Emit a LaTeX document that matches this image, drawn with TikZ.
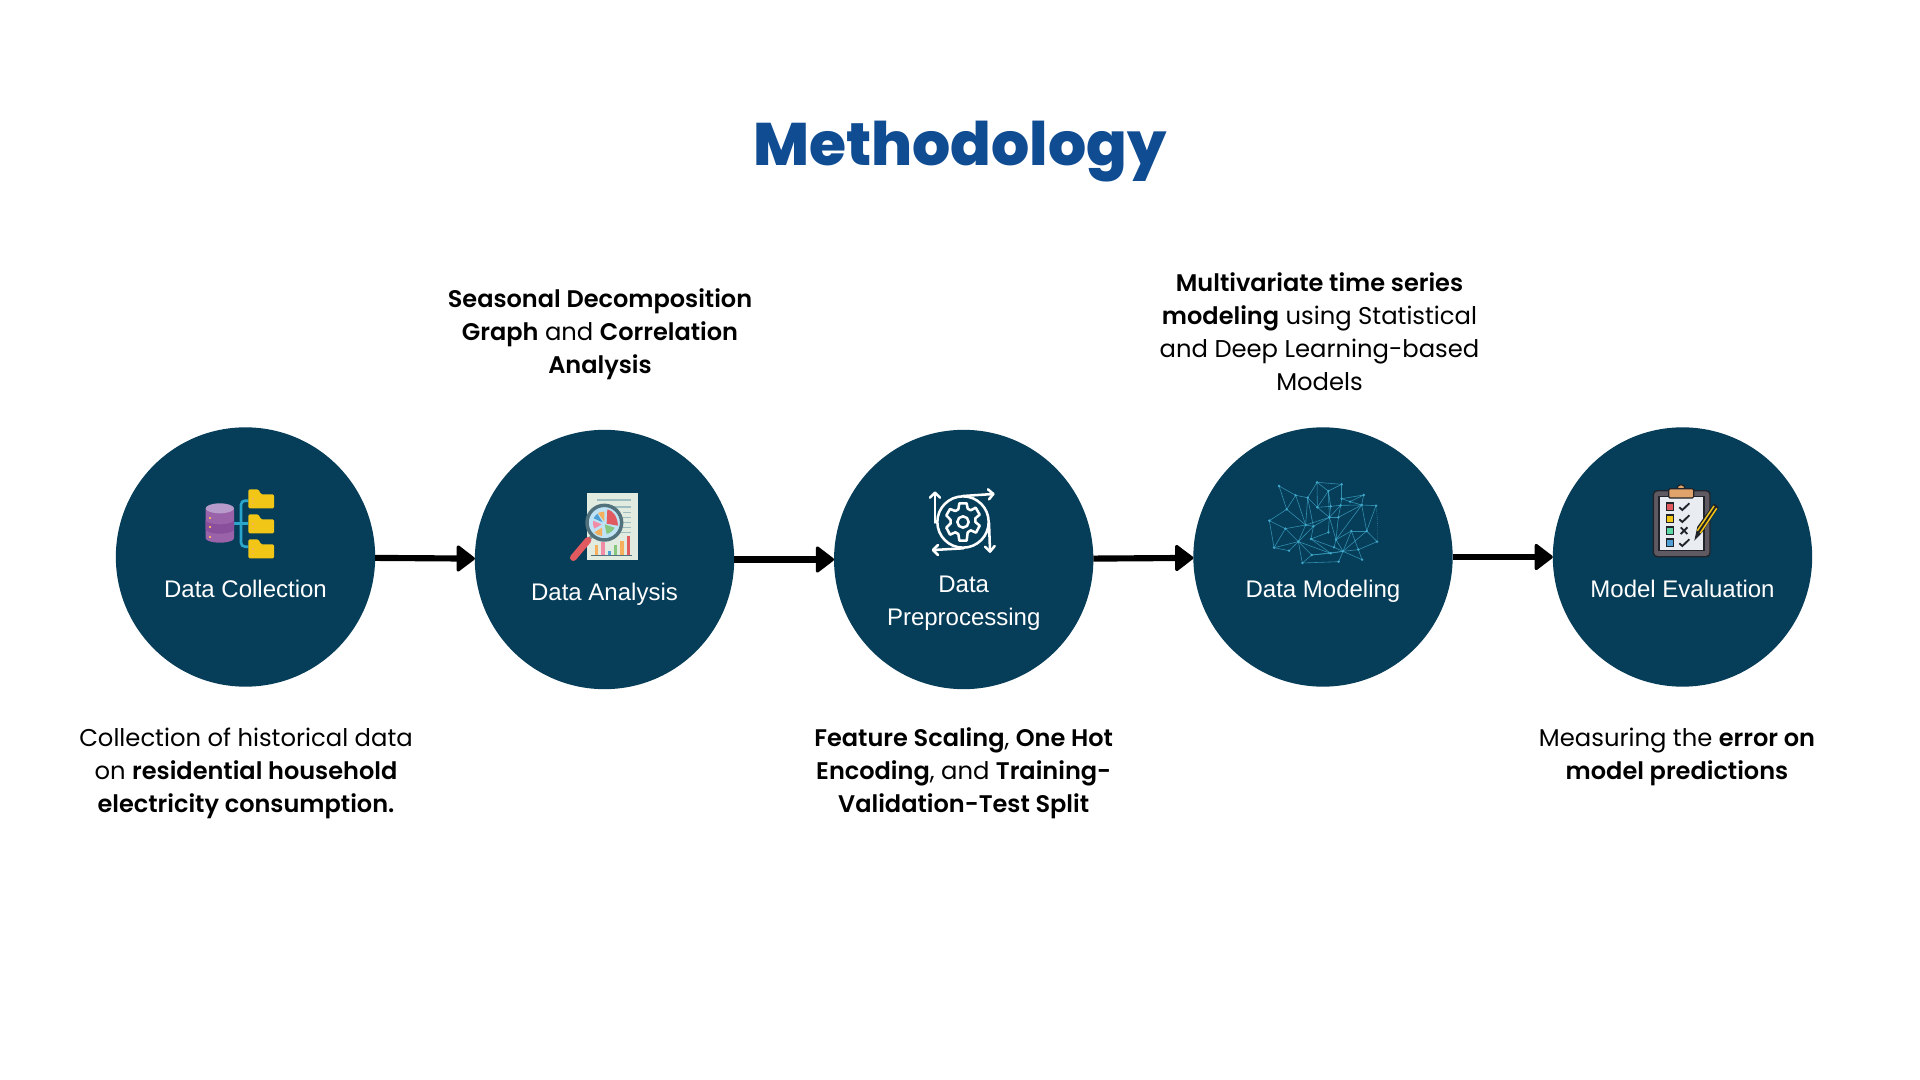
\documentclass[tikz,border=0pt]{standalone}
\usepackage{fontspec}
\setmainfont{Poppins}[BoldFont={Poppins SemiBold},BoldFeatures={Scale=0.99}]
\newfontfamily\titlefont{Poppins ExtraBold}
\newfontfamily\labelfont{Liberation Sans}
\usetikzlibrary{arrows.meta,calc}
\definecolor{circ}{HTML}{063D58}
\definecolor{titleblue}{HTML}{0F4C92}
\definecolor{foldery}{HTML}{F2C616}
\definecolor{linkb}{HTML}{2AA5CC}
\definecolor{cylA}{HTML}{9A62A8}
\definecolor{cylB}{HTML}{8A4F9C}
\definecolor{cylT}{HTML}{B79CCB}
\definecolor{paper}{HTML}{E2EBDF}
\definecolor{rule}{HTML}{9DBDC0}
\definecolor{lens}{HTML}{BFE2F5}
\definecolor{rim}{HTML}{51727C}
\definecolor{redc}{HTML}{E05A60}
\definecolor{orangec}{HTML}{F6AF5C}
\definecolor{pinkc}{HTML}{F28BA5}
\definecolor{bluec}{HTML}{4F9FD6}
\definecolor{greenc}{HTML}{85C77F}
\definecolor{netb}{HTML}{3FA9CC}
\definecolor{boardc}{HTML}{5F5A62}
\definecolor{clipc}{HTML}{E0A36B}
\definecolor{sheet}{HTML}{E9EDF1}
\definecolor{inkc}{HTML}{20242A}
\tikzset{
 x=0.75pt,y=-0.75pt,
 stepc/.style={circle,fill=circ,draw=none,minimum size=194.5pt,inner sep=0pt,outer sep=0pt},
 flow/.style={line width=4.6pt,draw=black,-{Triangle[length=14.5pt,width=21.5pt,round,line width=2.4pt]}},
 lbl/.style={text=white,align=center,inner sep=0pt,font=\labelfont\fontsize{18}{20.2}\selectfont},
 desc/.style={text=black,align=center,inner sep=0pt,font=\fontsize{18.2}{24.75}\selectfont},
 ttl/.style={text=titleblue,inner sep=0pt,font=\titlefont\fontsize{45}{50}\selectfont},
 wire/.style={draw=netb,line width=0.45pt,opacity=.75},
 dot/.style={fill=netb},
 gearline/.style={draw=white,line width=1.9pt,line join=round,line cap=round,fill=none},
 small/.style={x=0.25pt,y=-0.25pt}
}
\begin{document}
\begin{tikzpicture}
\fill[white] (0,0) rectangle (1920,1080);
\useasboundingbox (0,0) rectangle (1920,1080);
\node[stepc] (c1) at (245.5,557) {};
\node[stepc] (c2) at (604.5,559.5) {};
\node[stepc] (c3) at (963.7,559.5) {};
\node[stepc] (c4) at (1323,557) {};
\node[stepc] (c5) at (1682.5,557) {};
\draw[flow] (c1) -- (c2);
\draw[flow] (c2) -- (c3);
\draw[flow] (c3) -- (c4);
\draw[flow] (c4) -- (c5);
\node[ttl] (title) at (960,151.5) {Methodology};
\node[lbl] (l1) at (245.5,589) {Data Collection};
\node[lbl] (l2) at (604.5,594) {Data Analysis};
\node[lbl] (l3) at (963.7,603.5) {Data\\[4.5pt]Preprocessing};
\node[lbl] (l4) at (1323,591) {Data Modeling};
\node[lbl] (l5) at (1682.5,589) {Model Evaluation};
\node[desc] (d1) at (246,773.5) {Collection of historical data\\on \textbf{residential household}\\\textbf{electricity consumption.}};
\node[desc] (d2) at (600,334.5) {\textbf{Seasonal Decomposition}\\\textbf{Graph} and \textbf{Correlation}\\\textbf{Analysis}};
\node[desc] (d3) at (963.7,773.5) {\textbf{Feature Scaling}, \textbf{One Hot}\\\textbf{Encoding}, and \textbf{Training-}\\\textbf{Validation-Test Split}};
\node[desc] (d4) at (1319.5,332) {\textbf{Multivariate time series}\\\textbf{modeling} using Statistical\\and Deep Learning-based\\Models};
\node[desc] (d5) at (1677,756.5) {Measuring the \textbf{error on}\\\textbf{model predictions}};

% data collection icon
\begin{scope}[shift={(180,470)},small]
 \draw[linkb,line width=2pt,rounded corners=3pt] (205,92) -- (183,92) -- (183,230) -- (205,230);
 \draw[linkb,line width=2pt] (162,160) -- (205,160);
 \fill[cylA] (77,115) -- (77,205) arc[start angle=180,end angle=0,x radius=42.5,y radius=13] -- (162,115) -- cycle;
 \fill[cylB] (77,150) arc[start angle=180,end angle=0,x radius=42.5,y radius=13] -- (162,178) arc[start angle=0,end angle=180,x radius=42.5,y radius=13] -- cycle;
 \fill[cylT] (119.5,115) ellipse[x radius=42.5,y radius=15];
 \foreach \yy in {143,172,200} \fill[orangec] (87,\yy-3) rectangle (93,\yy+3);
 \foreach \yy in {58,133,208}{
  \fill[foldery,rounded corners=1pt] (205,\yy+57) -- (205,\yy) -- (235,\yy) -- (243,\yy+15) -- (282,\yy+15) -- (282,\yy+57) -- cycle;
  \fill[orangec] (216,\yy+26) rectangle (221,\yy+31);
  \fill[orangec] (216,\yy+40) rectangle (221,\yy+45);
 }
\end{scope}

% data analysis icon
\begin{scope}[shift={(560,485)},small]
 \fill[paper] (80,24) rectangle (234,226);
 \draw[rule,line width=1pt] (112,45) -- (212,45);
 \foreach \yy/\xa in {66/150,82/190,97/190,112/190,127/190,142/180} \draw[rule,line width=.8pt] (\xa,\yy) -- (212,\yy);
 \fill[orangec] (104,180) rectangle (114,210);
 \fill[pinkc] (124,170) rectangle (134,210);
 \fill[bluec] (143,198) rectangle (153,210);
 \fill[greenc] (162,180) rectangle (172,210);
 \fill[orangec] (181,168) rectangle (191,210);
 \fill[redc] (200,154) rectangle (210,210);
 \draw[rim,line width=1pt] (93,211) -- (217,211);
 \draw[rim!70!paper,line width=2.4pt] (97,152) -- (82,168);
 \draw[redc,line width=5pt,line cap=round] (84,166) -- (40,218);
 \fill[lens] (133,113) circle[radius=52];
 \fill[redc] (140,116) -- (142,73) .. controls (160,77) and (172,95) .. (174,122) -- cycle;
 \fill[greenc] (134,118) -- (164,128) .. controls (160,137) and (150,145) .. (140,147) -- cycle;
 \fill[orangec] (126,128) -- (126,153) .. controls (116,152) and (108,148) .. (103,142) -- cycle;
 \fill[pinkc] (99,107) -- (125,118) -- (103,131) .. controls (99,123) and (98,115) .. (99,107) -- cycle;
 \fill[bluec] (112,86) -- (128,112) -- (101,100) .. controls (103,95) and (107,90) .. (112,86) -- cycle;
 \fill[orangec] (114,84) .. controls (120,81) and (127,80) .. (133,80) -- (133,110) -- cycle;
 \draw[rim,line width=2.6pt] (133,113) circle[radius=52];
\end{scope}

% preprocessing icon
\begin{scope}[shift={(920,480)},small]
 \draw[gearline] (129,126) circle[radius=77];
 \draw[gearline] (45,128) -- (45,38);
 \draw[gearline] (30,53) -- (45,38) -- (60,53);
 \draw[gearline] (129,48) -- (220,42);
 \draw[gearline] (204,28) -- (220,42) -- (207,58);
 \draw[gearline] (207,128) -- (210,212);
 \draw[gearline] (195,200) -- (210,215) -- (224,198);
 \draw[gearline] (130,205) -- (40,210);
 \draw[gearline] (54,195) -- (39,210) -- (54,225);
 \draw[gearline] (129,126) circle[radius=17];
 \draw[gearline] (118,70) -- (140,70) -- (143,86) -- (152,91) -- (167,83) -- (179,104) -- (166,115) -- (166,126) -- (179,137) -- (168,158) -- (152,151) -- (143,157) -- (140,182) -- (118,182) -- (115,162) -- (106,157) -- (90,164) -- (79,143) -- (92,130) -- (92,120) -- (79,106) -- (90,87) -- (106,93) -- (115,88) -- cycle;
\end{scope}

% network icon
\begin{scope}[shift={(1260,475)},small]
 \foreach \n/\px/\py in {a/57/33,b/107/61,c/143/68,d/171/22,e/205/48,f/245/28,g/245/71,h/270/80,i/311/60,j/305/90,k/348/92,l/80/103,m/28/137,n/76/161,o/137/150,p/160/154,q/172/97,r/212/94,s/242/91,t/208/127,u/235/127,v/205/172,w/153/192,xx/115/200,yy/42/218,zz/87/227,A/155/240,B/127/264,C/212/235,D/222/217,E/228/194,F/249/229,G/274/168,H/320/168,I/351/200,J/295/224,K/306/254,L/236/260}
  \coordinate (\n) at (\px,\py);
 \foreach \p/\q in {a/b,a/l,b/c,b/l,b/o,c/d,c/q,c/p,c/o,d/e,d/f,d/q,e/f,e/q,e/r,e/t,f/g,g/h,g/i,h/i,h/j,i/j,j/k,s/j,g/s,q/r,r/s,q/t,r/t,s/t,s/u,t/u,u/j,t/o,t/p,o/l,l/m,m/n,m/yy,n/o,n/xx,n/yy,o/xx,p/xx,p/w,o/p,w/v,v/t,u/E,E/j,E/G,j/H,k/H,H/I,I/J,H/G,G/F,G/J,J/K,F/K,F/J,F/D,F/L,F/C,F/E,D/w,D/E,A/C,A/xx,A/F,B/A,B/xx,B/L,xx/yy,xx/zz,yy/zz,xx/C,t/E,w/C,H/F}
  \draw[wire] (\p) -- (\q);
 \draw[wire,densely dotted] (k) .. controls (352,120) and (355,170) .. (I);
 \foreach \n in {a,b,c,d,e,f,g,h,i,j,k,l,m,n,o,p,q,r,s,t,u,v,w,xx,yy,zz,A,B,C,D,E,F,G,H,I,J,K,L}
  \fill[dot] (\n) circle[radius=4];
\end{scope}

% evaluation icon
\begin{scope}[shift={(1620,470)},small]
 \fill[boardc,draw=inkc,line width=1pt,rounded corners=3pt] (100,62) rectangle (270,260);
 \fill[sheet,draw=inkc,line width=.8pt] (117,80) rectangle (252,242);
 \fill[clipc,draw=inkc,line width=.9pt] (183,56) circle[radius=12];
 \fill[clipc,draw=inkc,line width=.9pt,rounded corners=1pt] (146,56) rectangle (221,84);
 \foreach \yy/\cc in {110/redc,146/foldery,182/greenc!70!cyan,218/bluec}
  \fill[\cc,draw=inkc,line width=1pt] (139,\yy-11) rectangle (161,\yy+11);
 \foreach \yy in {110,146,218}
  \draw[inkc,line width=1.4pt] (178,\yy+2) -- (187,\yy+10) -- (208,\yy-10);
 \draw[inkc,line width=1.4pt] (182,172) -- (202,192) (202,172) -- (182,192);
 \fill[inkc] (223,212) -- (232,170) -- (282,100) -- (296,112) -- (246,188) -- cycle;
 \draw[foldery,line width=1.1pt] (232,182) -- (282,108);
 \draw[foldery,line width=1.1pt] (241,189) -- (290,115);
\end{scope}
\end{tikzpicture}
\end{document}
